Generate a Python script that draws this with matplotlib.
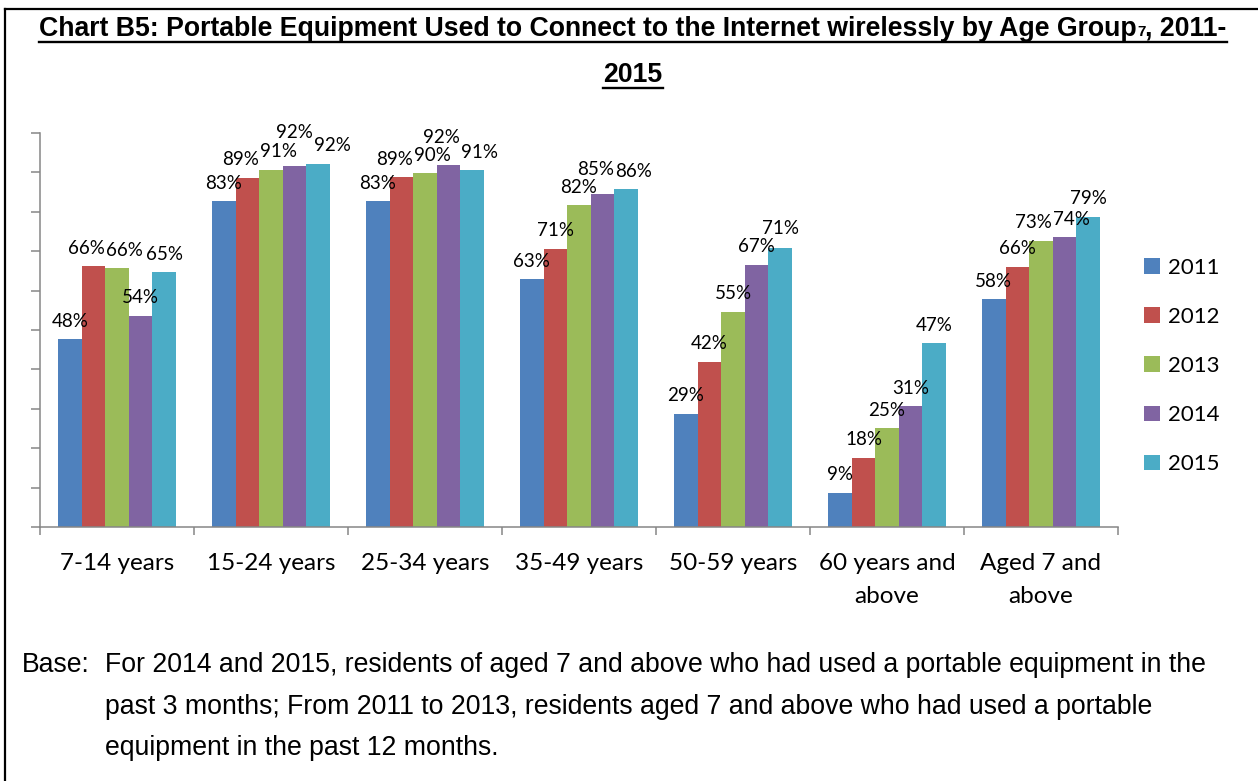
import matplotlib
matplotlib.use("Agg")
import matplotlib.pyplot as plt
from matplotlib.lines import Line2D
import numpy as np


CATEGORIES = ["7-14 years", "15-24 years", "25-34 years", "35-49 years",
              "50-59 years", "60 years and\nabove", "Aged 7 and\nabove"]
YEARS = ["2011", "2012", "2013", "2014", "2015"]
SHARE_2011 = [47.7, 82.7, 82.7, 62.9, 28.8, 8.7, 57.8]
SHARE_2012 = [66.2, 88.7, 88.8, 70.6, 41.9, 17.6, 66.1]
SHARE_2013 = [65.7, 90.7, 89.8, 81.6, 54.6, 25.1, 72.6]
SHARE_2014 = [53.6, 91.6, 91.9, 84.6, 66.6, 30.6, 73.6]
SHARE_2015 = [64.6, 92.2, 90.6, 85.7, 70.7, 46.6, 78.7]

TITLE_MAIN = "Chart B5: Portable Equipment Used to Connect to the Internet wirelessly by Age Group"
TITLE_NOTE = "7"
TITLE_TAIL = ", 2011-"
TITLE_LINE2 = "2015"
BASE_LABEL = "Base:"
BASE_LINES = [
    "For 2014 and 2015, residents of aged 7 and above who had used a portable equipment in the",
    "past 3 months; From 2011 to 2013, residents aged 7 and above who had used a portable",
    "equipment in the past 12 months.",
]

COLORS = ["#4F81BD", "#C0504D", "#9BBB59", "#8064A2", "#4BACC6"]
AXIS_GRAY = "#868686"
W, H = 1258, 781


def fx(px):
    return px / W


def fy(py):
    return 1 - py / H


series = [SHARE_2011, SHARE_2012, SHARE_2013, SHARE_2014, SHARE_2015]

fig = plt.figure(figsize=(W / 100, H / 100), dpi=100)
ax = fig.add_axes([fx(40), fy(527), fx(1118) - fx(40), fy(133) - fy(527)])

x = np.arange(len(CATEGORIES))
bar_w = 0.153
bars = []
for i, (year, vals, color) in enumerate(zip(YEARS, series, COLORS)):
    bars.append(ax.bar(x + (i - 2) * bar_w, vals, bar_w, color=color, label=year, linewidth=0))

ax.set_xlim(-0.5, len(CATEGORIES) - 0.5)
ax.set_ylim(0, 100)
ax.set_yticks(np.arange(0, 101, 10))
ax.set_yticklabels([])
ax.tick_params(axis="y", direction="out", length=6.5, width=1.1, color=AXIS_GRAY)
ax.set_xticks(x)
ax.set_xticklabels(CATEGORIES, fontsize=17.5, family="Lato", linespacing=1.7)
ax.set_xticks(np.arange(-0.5, len(CATEGORIES)), minor=True)
ax.tick_params(axis="x", which="major", length=0, pad=18.5)
ax.tick_params(axis="x", which="minor", direction="out", length=6, width=1.1, color=AXIS_GRAY)
for side in ("top", "right"):
    ax.spines[side].set_visible(False)
for side in ("left", "bottom"):
    ax.spines[side].set_color(AXIS_GRAY)
    ax.spines[side].set_linewidth(1.1)

# data labels, nudged apart the way Excel does when they collide
fig.canvas.draw()
renderer = fig.canvas.get_renderer()
to_px = ax.transData
to_data = ax.transData.inverted()
PAD = 18
MAX_SHIFT = 8
LABEL_H = 18
LIFT_MIN = 8
for g in range(len(CATEGORIES)):
    boxes = []
    for i, vals in enumerate(series):
        t = ax.text(x[g] + (i - 2) * bar_w, vals[g], f"{vals[g]:.0f}%", ha="center", va="center",
                    fontsize=13.5, family="Lato", color="black")
        w = t.get_window_extent(renderer).width + 1
        cx, top = to_px.transform((x[g] + (i - 2) * bar_w, vals[g]))
        box = {"t": t, "cx": cx, "cy": top + PAD, "w": w, "raised": False}
        if boxes:
            prev = boxes[-1]
            ov = (prev["w"] + w) / 2 - (box["cx"] - prev["cx"])
            dy = box["cy"] - prev["cy"]
            if ov > 0 and abs(dy) < LABEL_H:
                if dy >= LIFT_MIN:
                    # already mostly above: lift it a little
                    box["cy"] = prev["cy"] + LABEL_H
                elif ov <= 2 * MAX_SHIFT:
                    if prev["raised"]:
                        box["cx"] += ov
                    else:
                        prev["cx"] -= ov / 2
                        box["cx"] += ov / 2
                else:
                    box["cy"] = prev["cy"] + LABEL_H + 1
                    box["raised"] = True
        boxes.append(box)
    for box in boxes:
        box["t"].set_position(to_data.transform((box["cx"], box["cy"])))

ax.legend(handles=bars, labels=YEARS, loc="center left", bbox_to_anchor=(fx(1144), fy(366)),
          bbox_transform=fig.transFigure, frameon=False, prop={"family": "Lato", "size": 16},
          handlelength=0.7, handleheight=0.7, handletextpad=0.4, labelspacing=1.31,
          borderpad=0, borderaxespad=0)

# title, underlined, with the small footnote mark
tfont = {"family": "Liberation Sans", "weight": "bold", "color": "black"}
parts = [(TITLE_MAIN, 19.2), (TITLE_NOTE, 11), (TITLE_TAIL, 19.2)]
texts = [fig.text(0, fy(36), s, size=sz, va="baseline", ha="left", **tfont) for s, sz in parts]
fig.canvas.draw()
widths = [t.get_window_extent(renderer).width for t in texts]
start = 633 - sum(widths) / 2
pos = start
for t, w in zip(texts, widths):
    t.set_x(fx(pos))
    pos += w
fig.add_artist(Line2D([fx(start), fx(pos)], [fy(41.5), fy(41.5)], color="black", lw=1.7,
                      transform=fig.transFigure))
t2 = fig.text(fx(633), fy(82), TITLE_LINE2, size=19.2, va="baseline", ha="center", **tfont)
fig.canvas.draw()
b2 = t2.get_window_extent(renderer)
fig.add_artist(Line2D([fx(b2.x0), fx(b2.x1)], [fy(87.5), fy(87.5)], color="black", lw=1.7,
                      transform=fig.transFigure))

# footnote
nfont = {"family": "Liberation Sans", "size": 19.2, "color": "black", "va": "baseline"}
fig.text(fx(22), fy(672), BASE_LABEL, **nfont)
for k, line in enumerate(BASE_LINES):
    fig.text(fx(105), fy(672 + 41.5 * k), line, **nfont)

# frame around the chart (left and top edges are inside the picture)
fig.add_artist(Line2D([fx(5), fx(5)], [fy(9), 0], color="black", lw=1.6, transform=fig.transFigure))
fig.add_artist(Line2D([fx(5), 1], [fy(9), fy(9)], color="black", lw=1.6, transform=fig.transFigure))

fig.savefig("out.png", dpi=100)
